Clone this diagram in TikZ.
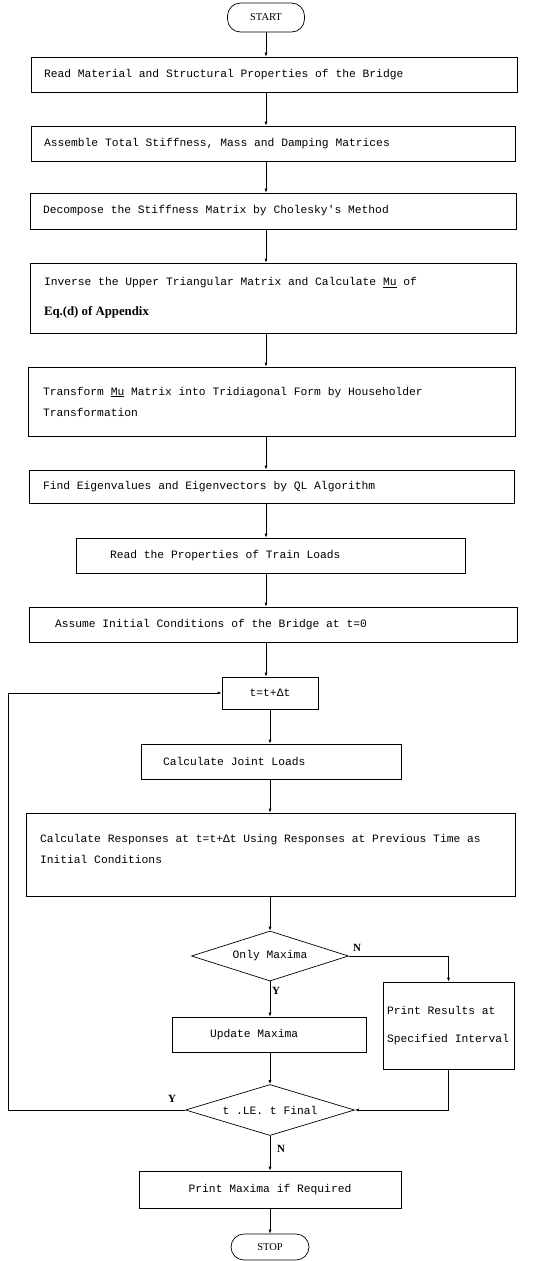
\documentclass[tikz,border=0pt]{standalone}
\usepackage{fontspec}
\setmainfont{Liberation Serif}
\setmonofont{Liberation Mono}
\usetikzlibrary{shapes.geometric,arrows.meta}
\tikzset{
	process/.style = {draw=black, rectangle, align=left, inner xsep=0pt, inner ysep=0pt, line width=0.7pt, font=\fontsize{11.3}{21}\selectfont\ttfamily, execute at begin node={\spaceskip=0.6em\relax}},
	terminal/.style = {draw=black, rectangle, rounded corners=13pt, inner sep=0pt, line width=0.7pt, font=\fontsize{10.5}{12}\selectfont},
	decision/.style = {draw=black, diamond, aspect=3, inner sep=0pt, line width=0.7pt, font=\fontsize{11.3}{14}\selectfont\ttfamily, execute at begin node={\spaceskip=0.6em\relax}},
	yn/.style = {inner sep=0pt, font=\fontsize{11}{13}\selectfont\bfseries},
	conn/.style = {draw=black, line width=0.7pt, -{Latex[length=4pt,width=3pt]}}
}

\begin{document}
\begin{tikzpicture}[x=1pt, y=-1pt]
		\useasboundingbox (0,0) rectangle (549,1261);
		\node [terminal, minimum width=77pt, minimum height=29pt] (start) at (266,17.5) {START};
		\node [process, minimum width=486pt, minimum height=35pt, text width=460pt] (readmat) at (274,74.5)
			{Read Material and Structural Properties of the Bridge};
		\node [process, minimum width=484pt, minimum height=35pt, text width=458pt] (assem) at (273,143.5)
			{Assemble Total Stiffness, Mass and Damping Matrices};
		\node [process, minimum width=486pt, minimum height=36pt, text width=460pt] (decomp) at (273,211)
			{Decompose the Stiffness Matrix by Cholesky's Method};
		\node [process, minimum width=486pt, minimum height=70pt, text width=458pt] (inverse) at (273,298)
			{Inverse the Upper Triangular Matrix and Calculate \underline{Mu} of\\[9pt]
			{\rmfamily\bfseries\fontsize{12.8}{14}\selectfont\spaceskip=0pt Eq.(d) of Appendix}};
		\node [process, minimum width=487pt, minimum height=69pt, text width=457pt] (transf) at (271.5,401.5)
			{Transform \underline{Mu} Matrix into Tridiagonal Form by Householder\\Transformation};
		\node [process, minimum width=485pt, minimum height=33pt, text width=457pt] (eigen) at (271.5,486.5)
			{Find Eigenvalues and Eigenvectors by QL Algorithm};
		\node [process, minimum width=389pt, minimum height=35pt, text width=321pt] (train) at (270.5,555.5)
			{Read the Properties of Train Loads};
		\node [process, minimum width=488pt, minimum height=35pt, text width=436pt] (assume) at (273,624.5)
			{Assume Initial Conditions of the Bridge at t=0};
		\node [process, align=center, minimum width=96pt, minimum height=32pt] (tstep) at (270,693) {t=t+Δt};
		\node [process, minimum width=260pt, minimum height=35pt, text width=216pt] (joint) at (271,761.5)
			{Calculate Joint Loads};
		\node [process, minimum width=489pt, minimum height=83pt, text width=461pt] (resp) at (270.5,854.5)
			{Calculate Responses at t=t+Δt Using Responses at Previous Time as\\Initial Conditions\\[-9pt]\mbox{}};
		\node [decision, minimum width=157pt, minimum height=50pt] (onlymax) at (270,956) {Only Maxima};
		\node [process, minimum width=194pt, minimum height=35pt, text width=118pt] (update) at (269,1034.5)
			{Update Maxima};
		\node [process, minimum width=131pt, minimum height=87pt, text width=123pt] (printres) at (448.5,1025.5)
			{Print Results at\\[7pt]Specified Interval};
		\node [decision, minimum width=169pt, minimum height=51pt] (tle) at (270,1110) {t .LE. t Final};
		\node [process, align=center, minimum width=262pt, minimum height=37pt] (printmax) at (270,1189.5)
			{Print Maxima if Required};
		\node [terminal, minimum width=78pt, minimum height=26pt] (stop) at (270,1247) {STOP};
		\coordinate (loopc) at (8,693);

		\node [yn] (nmax) at (357,948) {N};
		\node [yn] (ymax) at (276,991) {Y};
		\node [yn] (ytle) at (172,1099) {Y};
		\node [yn] (ntle) at (281,1149) {N};

		\draw [conn] (start.south) -- (start |- readmat.north);
		\draw [conn] (readmat.south -| start) -- (start |- assem.north);
		\draw [conn] (assem.south -| start) -- (start |- decomp.north);
		\draw [conn] (decomp.south -| start) -- (start |- inverse.north);
		\draw [conn] (inverse.south -| start) -- (start |- transf.north);
		\draw [conn] (transf.south -| start) -- (start |- eigen.north);
		\draw [conn] (eigen.south -| start) -- (start |- train.north);
		\draw [conn] (train.south -| start) -- (start |- assume.north);
		\draw [conn] (assume.south -| start) -- (start |- tstep.north);
		\draw [conn] (tstep.south) -- (tstep |- joint.north);
		\draw [conn] (joint.south -| tstep) -- (tstep |- resp.north);
		\draw [conn] (resp.south -| onlymax) -- (onlymax.north);
		\draw [conn] (onlymax.south) -- (onlymax |- update.north);
		\draw [conn] (onlymax.east) -| (printres.north);
		\draw [conn] (update.south -| tle) -- (tle.north);
		\draw [conn] (printres.south) |- (tle.east);
		\draw [conn] (tle.west) -| (loopc) -- (tstep.west);
		\draw [conn] (tle.south) -- (tle |- printmax.north);
		\draw [conn] (printmax.south) -- (stop.north);
\end{tikzpicture}
\end{document}
